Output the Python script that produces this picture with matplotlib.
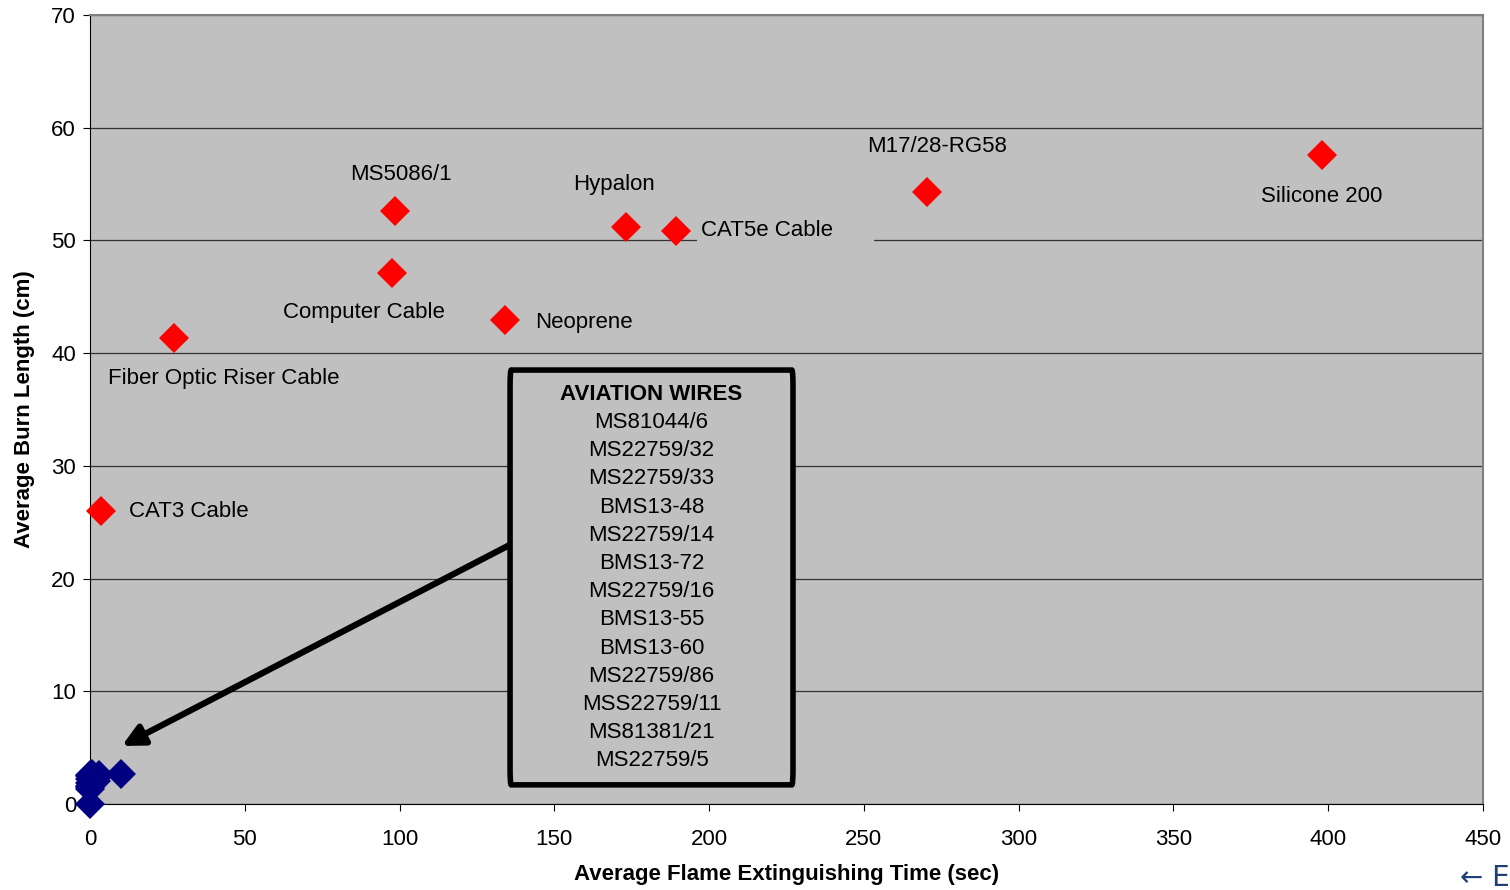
import matplotlib.pyplot as plt
from matplotlib.patches import FancyBboxPatch

plt.rcParams['font.family'] = ['Liberation Sans', 'DejaVu Sans']

# flame test results: (extinguishing time, burn length)
cable_names = ["CAT3 Cable", "Fiber Optic Riser Cable", "Computer Cable", "MS5086/1",
               "Neoprene", "Hypalon", "CAT5e Cable", "M17/28-RG58", "Silicone 200"]
cable_time = [3.5, 27.0, 97.5, 98.5, 134.0, 173.2, 189.4, 270.3, 398.0]
cable_burn = [26.0, 41.3, 47.1, 52.6, 42.9, 51.2, 50.8, 54.3, 57.6]

aviation_names = ["MS81044/6", "MS22759/32", "MS22759/33", "BMS13-48", "MS22759/14",
                  "BMS13-72", "MS22759/16", "BMS13-55", "BMS13-60", "MS22759/86",
                  "MSS22759/11", "MS81381/21", "MS22759/5"]
aviation_time = [0.0, 0.0, 0.0, 0.0, 0.0, 0.0, 0.5, 1.0, 2.0, 3.0, 10.0, 0.0, 0.0]
aviation_burn = [0.0, 1.3, 1.6, 1.9, 2.2, 2.5, 2.7, 2.3, 2.0, 2.6, 2.7, 1.5, 2.6]

# label offsets in pixels from each point, and alignment
label_offsets = [(28, -1, 'left'), (50, -40, 'center'), (-28, -39, 'center'), (6, 37, 'center'),
                 (30, -2, 'left'), (-12, 42, 'center'), (25, 1, 'left'), (10, 45, 'center'),
                 (0, -42, 'center')]

fig = plt.figure(figsize=(15.1, 8.9), dpi=100)
ax = fig.add_axes([90 / 1510, 1 - 804 / 890, (1483 - 90) / 1510, (804 - 15) / 890])
ax.set_facecolor('#c0c0c0')
ax.set_xlim(0, 450)
ax.set_ylim(0, 70)
ax.set_xticks(range(0, 451, 50))
ax.set_yticks(range(0, 71, 10))
ax.yaxis.grid(True, color='#333333', lw=0.9)
ax.set_axisbelow(True)
ax.tick_params(direction='out', length=5, labelsize=16)
ax.tick_params(axis='x', pad=13)
ax.tick_params(axis='y', pad=5)
for s in ['top', 'right']:
    ax.spines[s].set_color('#808080')
    ax.spines[s].set_linewidth(1.5)
for s in ['left', 'bottom']:
    ax.spines[s].set_color('black')

ax.plot(aviation_time, aviation_burn, 'D', color='#000080', ms=15, mew=0, clip_on=False, zorder=4)
ax.plot(cable_time, cable_burn, 'D', color='#ff0000', ms=15, mew=0, clip_on=False, zorder=4)

for name, x, y, (dx, dy, ha) in zip(cable_names, cable_time, cable_burn, label_offsets):
    txt = name + ("      " if name == "CAT5e Cable" else "")
    ax.annotate(txt, (x, y), xytext=(dx, dy), textcoords='offset pixels', ha=ha, va='center',
                fontsize=16, bbox=dict(boxstyle='square,pad=0.2', fc='#c0c0c0', ec='none'),
                zorder=3)

# aviation wires callout
box = FancyBboxPatch((135.7, 1.7), 91.4, 36.8, boxstyle='round,pad=0,rounding_size=0.4',
                     fc='#c0c0c0', ec='black', lw=4, zorder=5, mutation_aspect=11.27 / 3.096)
ax.add_patch(box)
cx = (135.7 + 227.1) / 2
ax.annotate("AVIATION WIRES", (cx, 38.5), xytext=(0, -24), textcoords='offset pixels',
            ha='center', va='center', fontsize=16, fontweight='bold', zorder=6)
for i, name in enumerate(aviation_names):
    ax.annotate(name, (cx, 38.5), xytext=(0, -52.5 - i * 28.2), textcoords='offset pixels',
                ha='center', va='center', fontsize=16, zorder=6)

ax.annotate("", xy=(10.3, 5.15), xytext=(135.7, 23.0),
            arrowprops=dict(arrowstyle='-|>', lw=4.5, color='black', mutation_scale=32,
                            shrinkA=0, shrinkB=0), zorder=4)

ax.set_xlabel("Average Flame Extinguishing Time (sec)", fontsize=16, fontweight='bold', labelpad=10)
ax.set_ylabel("Average Burn Length (cm)", fontsize=16, fontweight='bold', labelpad=12)

fig.text(1460 / 1510, 1 - 878 / 890, "\u2190 E", fontsize=20, color='#1f3f77',
         ha='left', va='center', family=['DejaVu Sans'])

fig.savefig("out.png", dpi=100)
